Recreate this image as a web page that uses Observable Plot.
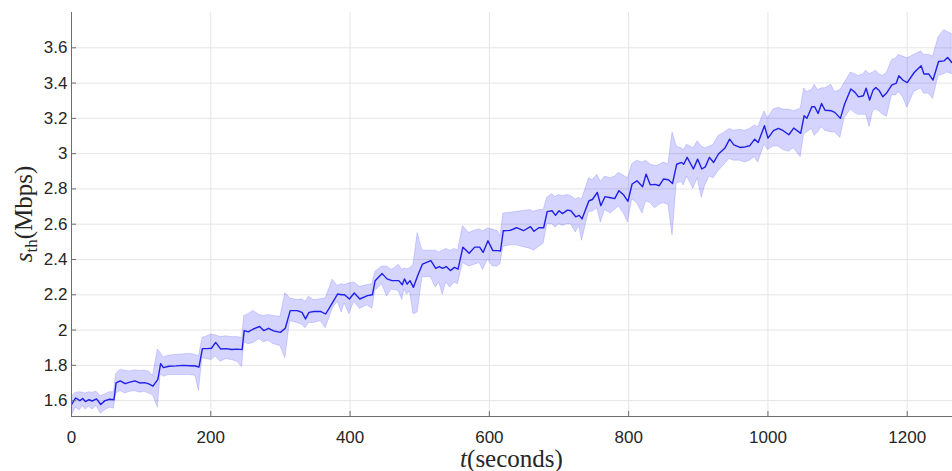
<!DOCTYPE html>
<html>
<head>
<meta charset="utf-8">
<script src="https://cdn.jsdelivr.net/npm/d3@7"></script>
<script src="https://cdn.jsdelivr.net/npm/@observablehq/plot@0.6"></script>
<style>
  html, body { margin: 0; padding: 0; background: #fff; }
  #chart svg { display: block; }
</style>
</head>
<body>
<div id="chart"></div>
<script>
const times = [0,6,12,16,20,25,30,36,42,48,55,61,64,70,77,84,91,98,105,111,117,124,128,132,140,150,160,170,178,183,188,195,201,207,214,222,230,238,245,248,254,261,270,276,283,290,300,307,314,324,331,336,341,348,358,365,375,382,388,392,399,406,414,425,432,436,446,453,460,470,475,478,482,486,491,497,504,516,523,528,533,538,544,550,555,562,571,579,586,591,598,605,612,616,620,630,639,649,659,664,671,678,683,690,695,700,705,712,717,724,729,733,743,748,755,760,766,774,780,786,793,799,805,812,820,825,831,838,844,850,857,863,869,876,879,884,893,899,905,910,916,922,929,938,945,951,960,967,974,981,986,995,1000,1008,1015,1022,1030,1037,1047,1052,1056,1063,1067,1072,1077,1082,1091,1096,1104,1110,1119,1125,1130,1137,1141,1146,1151,1155,1160,1165,1171,1178,1184,1188,1194,1200,1210,1220,1224,1231,1237,1245,1253,1258,1264];
const meanVals = [1.577,1.615,1.60,1.612,1.595,1.605,1.598,1.61,1.578,1.60,1.608,1.605,1.70,1.712,1.696,1.705,1.712,1.70,1.702,1.695,1.682,1.72,1.81,1.787,1.795,1.797,1.80,1.798,1.796,1.79,1.895,1.895,1.897,1.93,1.893,1.895,1.89,1.892,1.889,1.997,1.99,2.006,2.02,1.997,2.01,1.995,1.987,2.01,2.11,2.11,2.10,2.063,2.10,2.105,2.105,2.091,2.157,2.204,2.20,2.20,2.176,2.21,2.176,2.195,2.20,2.28,2.32,2.29,2.28,2.28,2.257,2.29,2.26,2.28,2.242,2.308,2.374,2.393,2.35,2.36,2.35,2.36,2.337,2.355,2.345,2.47,2.435,2.47,2.47,2.44,2.506,2.45,2.45,2.448,2.563,2.565,2.58,2.563,2.586,2.56,2.58,2.58,2.671,2.676,2.65,2.676,2.66,2.68,2.676,2.642,2.65,2.63,2.733,2.74,2.78,2.705,2.756,2.75,2.745,2.79,2.765,2.73,2.828,2.846,2.812,2.884,2.823,2.826,2.818,2.856,2.852,2.831,2.94,2.95,2.94,2.979,2.913,2.969,2.913,2.925,2.979,2.95,2.998,3.03,3.082,3.05,3.035,3.038,3.045,3.082,3.063,3.158,3.088,3.13,3.143,3.13,3.107,3.145,3.115,3.215,3.20,3.266,3.266,3.228,3.284,3.246,3.243,3.234,3.20,3.28,3.366,3.347,3.322,3.328,3.371,3.304,3.36,3.375,3.356,3.322,3.347,3.39,3.398,3.441,3.416,3.403,3.46,3.498,3.451,3.451,3.417,3.522,3.526,3.545,3.517];
const lowVals = [1.51,1.56,1.545,1.57,1.55,1.565,1.55,1.57,1.525,1.545,1.56,1.555,1.64,1.655,1.64,1.65,1.655,1.645,1.65,1.64,1.63,1.56,1.75,1.735,1.745,1.745,1.745,1.745,1.74,1.655,1.84,1.835,1.83,1.85,1.82,1.835,1.83,1.82,1.79,1.93,1.92,1.925,1.95,1.93,1.94,1.92,1.91,1.84,2.05,2.04,2.03,2.01,2.04,2.04,2.05,2.01,2.12,2.16,2.10,2.15,2.09,2.16,2.12,2.14,2.12,2.22,2.26,2.19,2.23,2.22,2.17,2.23,2.20,2.22,2.09,2.10,2.30,2.30,2.24,2.27,2.20,2.27,2.24,2.27,2.26,2.38,2.36,2.37,2.38,2.34,2.40,2.36,2.36,2.375,2.47,2.48,2.48,2.47,2.46,2.45,2.47,2.49,2.60,2.60,2.58,2.60,2.59,2.60,2.60,2.553,2.59,2.506,2.67,2.67,2.69,2.61,2.68,2.66,2.68,2.70,2.66,2.61,2.74,2.72,2.66,2.73,2.72,2.69,2.71,2.72,2.71,2.535,2.83,2.84,2.82,2.87,2.80,2.86,2.75,2.82,2.87,2.86,2.90,2.94,2.97,2.96,2.96,2.95,2.96,2.98,2.95,3.05,3.02,3.04,3.04,3.02,3.01,3.03,2.98,3.11,3.12,3.14,3.10,3.12,3.15,3.13,3.12,3.12,3.09,3.20,3.25,3.23,3.22,3.22,3.22,3.15,3.24,3.25,3.24,3.22,3.21,3.33,3.33,3.35,3.32,3.26,3.35,3.37,3.34,3.34,3.31,3.44,3.45,3.46,3.45];
const highVals = [1.62,1.645,1.648,1.645,1.64,1.648,1.645,1.65,1.625,1.635,1.648,1.648,1.75,1.775,1.77,1.765,1.772,1.768,1.77,1.765,1.74,1.89,1.87,1.845,1.855,1.86,1.862,1.865,1.86,1.85,1.955,1.965,1.975,1.97,1.96,1.965,1.96,1.96,1.955,2.08,2.09,2.11,2.085,2.08,2.085,2.08,2.075,2.21,2.18,2.17,2.175,2.16,2.19,2.17,2.175,2.18,2.285,2.25,2.26,2.255,2.265,2.27,2.245,2.255,2.26,2.33,2.36,2.36,2.34,2.37,2.34,2.35,2.345,2.35,2.37,2.55,2.45,2.45,2.45,2.44,2.45,2.46,2.45,2.46,2.45,2.59,2.55,2.565,2.57,2.56,2.575,2.57,2.56,2.53,2.66,2.665,2.67,2.675,2.68,2.67,2.68,2.68,2.75,2.77,2.755,2.765,2.76,2.765,2.76,2.74,2.75,2.74,2.86,2.85,2.88,2.84,2.87,2.86,2.87,2.89,2.875,2.86,2.94,2.96,2.95,2.96,2.94,2.93,2.935,2.95,2.94,3.12,3.04,3.03,3.02,3.05,3.03,3.07,3.04,3.03,3.04,3.05,3.10,3.12,3.14,3.13,3.135,3.13,3.14,3.16,3.15,3.24,3.20,3.25,3.26,3.25,3.25,3.24,3.255,3.37,3.35,3.36,3.39,3.36,3.37,3.37,3.39,3.35,3.36,3.40,3.46,3.45,3.44,3.45,3.47,3.45,3.46,3.47,3.45,3.44,3.46,3.53,3.54,3.56,3.55,3.54,3.56,3.58,3.56,3.56,3.55,3.66,3.70,3.69,3.68];

const xTicks = [0, 200, 400, 600, 800, 1000, 1200];
const yTicks = [1.6, 1.8, 2.0, 2.2, 2.4, 2.6, 2.8, 3.0, 3.2, 3.4, 3.6];
const yTickLabels = ["1.6", "1.8", "2", "2.2", "2.4", "2.6", "2.8", "3", "3.2", "3.4", "3.6"];
const xDomain = [0, 1265];
const yDomain = [1.51, 3.8];

const rows = times.map((t, i) => ({t, m: meanVals[i], lo: lowVals[i], hi: highVals[i]}));
const yLabelMap = new Map(yTicks.map((v, i) => [v.toFixed(1), yTickLabels[i]]));

const tickFont = "'Liberation Sans', Arial, Helvetica, sans-serif";

const chart = Plot.plot({
  width: 952,
  height: 471,
  marginLeft: 71,
  marginRight: 0,
  marginTop: 12,
  marginBottom: 55,
  style: {fontFamily: tickFont, fontSize: "17px", color: "#262626", background: "#fff"},
  x: {domain: xDomain, label: null},
  y: {domain: yDomain, label: null},
  marks: [
    Plot.gridX(xTicks.filter(d => d > 0), {stroke: "#e5e5e5", strokeOpacity: 1}),
    Plot.gridY(yTicks, {stroke: "#e5e5e5", strokeOpacity: 1}),
    Plot.areaY(rows, {x: "t", y1: "lo", y2: "hi", fill: "#0000ff", fillOpacity: 0.17, stroke: "#0000ff", strokeOpacity: 0.18, strokeWidth: 0.8, clip: true}),
    Plot.lineY(rows, {x: "t", y: "m", stroke: "#1f1fe8", strokeWidth: 1.4, clip: true}),
    Plot.ruleX([xDomain[0]], {stroke: "#6e6e6e", strokeWidth: 1}),
    Plot.ruleY([yDomain[0]], {stroke: "#6e6e6e", strokeWidth: 1}),
    Plot.axisX(xTicks, {tickSize: -5, stroke: "#6e6e6e", tickFormat: () => ""}),
    Plot.axisY(yTicks, {tickSize: -5, stroke: "#6e6e6e", tickFormat: () => ""}),
    Plot.axisX(xTicks, {tickSize: 0, tickPadding: 14, fontSize: 17, fill: "#262626", tickFormat: d => String(d)}),
    Plot.axisY(yTicks, {tickSize: 0, tickPadding: 4, fontSize: 17, fill: "#262626", tickFormat: d => yLabelMap.get((+d).toFixed(1))})
  ]
});

document.getElementById("chart").appendChild(chart);

// Axis titles (LaTeX-like, serif)
const svg = d3.select(chart);
const serif = "'Liberation Serif', 'DejaVu Serif', 'Times New Roman', serif";
const xt = svg.append("text")
  .attr("x", 71 + (952 - 71) / 2)
  .attr("y", 467)
  .attr("text-anchor", "middle")
  .attr("font-family", serif)
  .attr("font-size", 25)
  .attr("fill", "#262626");
xt.append("tspan").attr("font-style", "italic").text("t");
xt.append("tspan").text("(seconds)");

const yt = svg.append("text")
  .attr("transform", `translate(32, ${12 + (416 - 12) / 2}) rotate(-90)`)
  .attr("text-anchor", "middle")
  .attr("font-family", serif)
  .attr("font-size", 25)
  .attr("fill", "#262626");
yt.append("tspan").attr("font-style", "italic").text("s");
yt.append("tspan").attr("font-size", 17).attr("dy", 5).text("th");
yt.append("tspan").attr("dy", -5).text("(Mbps)");
</script>
</body>
</html>
